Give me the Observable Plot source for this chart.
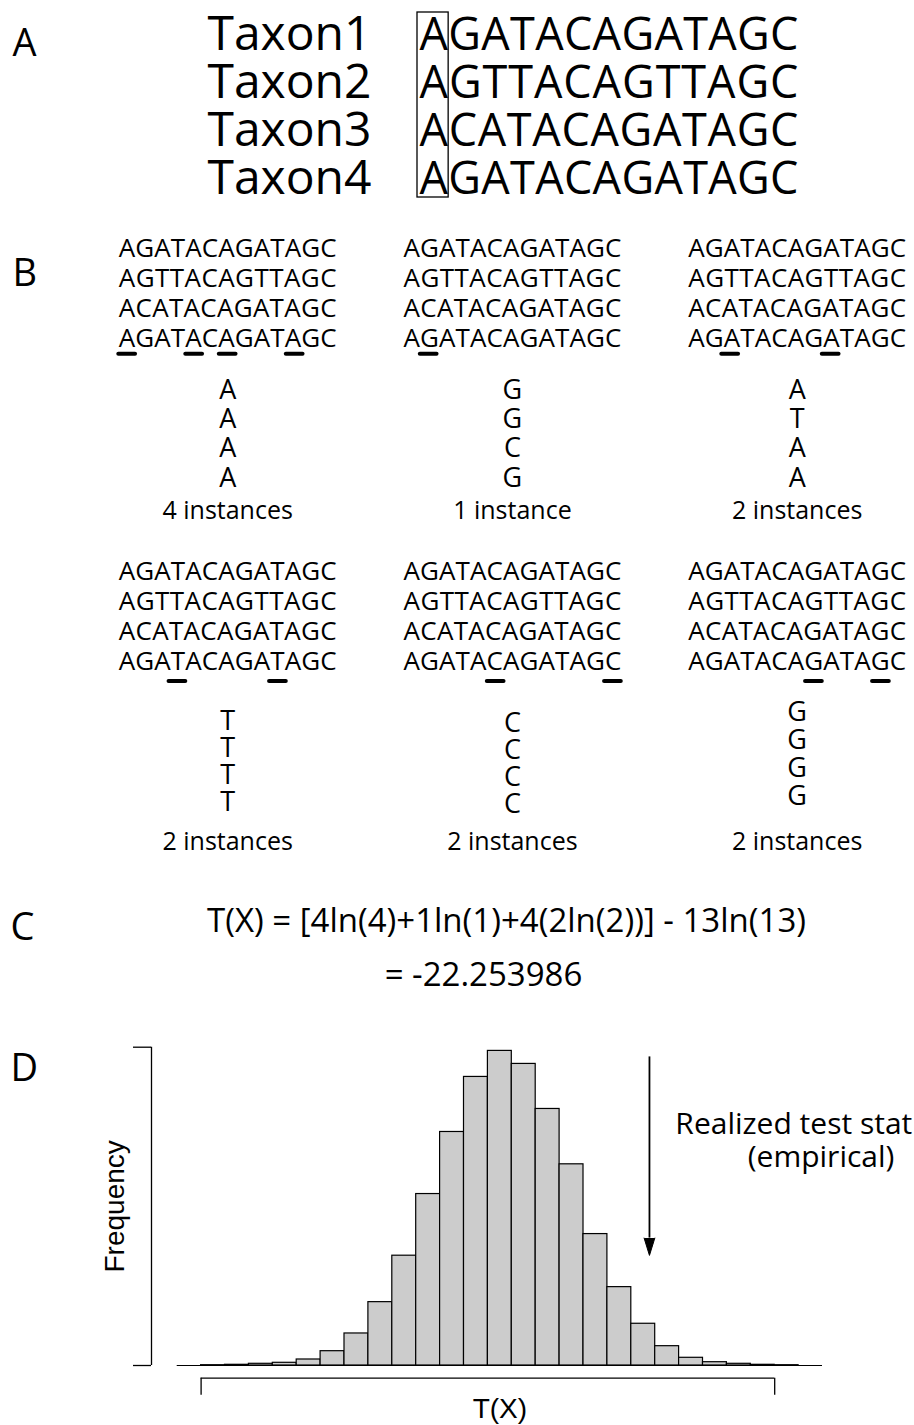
<!DOCTYPE html>
<html>
<head>
<meta charset="utf-8">
<script src="https://cdn.jsdelivr.net/npm/d3@7"></script>
<script src="https://cdn.jsdelivr.net/npm/@observablehq/plot@0.6"></script>
<style>
html, body { margin: 0; padding: 0; background: #fff; }
#fig { position: relative; width: 914px; height: 1425px; overflow: hidden; background: #fff; }
</style>
</head>
<body>
<div id="fig"></div>
<script>
// ---------------- data ----------------
const panelLabels = ["A", "B", "C", "D"];
const taxa = ["Taxon1", "Taxon2", "Taxon3", "Taxon4"];
const sequences = ["AGATACAGATAGC", "AGTTACAGTTAGC", "ACATACAGATAGC", "AGATACAGATAGC"];
const highlightedSite = 0;
const sitePatterns = ["AAAA", "GGCG", "ATAA", "TTTT", "CCCC", "GGGG"];
const patternSites = [[0, 4, 6, 10], [1], [2, 8], [3, 9], [5, 12], [7, 11]];
const instanceLabels = ["4 instances", "1 instance", "2 instances", "2 instances", "2 instances", "2 instances"];
const formulaLines = ["T(X) = [4ln(4)+1ln(1)+4(2ln(2))] - 13ln(13)", "= -22.253986"];
const binStart = [0, 1, 2, 3, 4, 5, 6, 7, 8, 9, 10, 11, 12, 13, 14, 15, 16, 17, 18, 19, 20, 21, 22, 23, 24, 25, 26];
const frequency = [0, 0.3, 0.7, 1.7, 2.7, 6, 14.3, 32, 63.3, 109.7, 171.3, 233.3, 288.3, 314.3, 301.3, 256.3, 201, 131.3, 78.3, 41.7, 19.3, 7.7, 3.3, 1.7, 0.7, 0.3, 0];
const xTicks = [1, 25];
const yTicks = [0, 318];
const realizedStat = 19.76;
const arrowLabel = ["Realized test statistic", "(empirical)"];
const xLabel = "T(X)";
const yLabel = "Frequency";

// ---------------- helpers ----------------
const FONT_MAIN = "'Open Sans', 'Noto Sans', sans-serif";
const FONT_R = "'Liberation Sans', Arial, sans-serif";
const fig = document.getElementById("fig");
function place(svg, top) {
  svg.style.position = "absolute";
  svg.style.left = "0px";
  svg.style.top = top + "px";
  svg.style.background = "transparent";
  svg.style.maxWidth = "none";
  fig.appendChild(svg);
}
// stretch each alignment line so that its 13 sites fill 13 equal columns
function fitLines(svg, strings, length) {
  svg.querySelectorAll("text, tspan").forEach(el => {
    if (el.children.length === 0 && strings.includes(el.textContent)) {
      el.setAttribute("textLength", length);
      el.setAttribute("lengthAdjust", "spacing");
    }
  });
}

// ---------------- panel A ----------------
const A_COL = 29.15, A_ROW = 48;
const plotA = Plot.plot({
  width: 914, height: 210,
  marginLeft: 419, marginRight: 116, marginTop: 49, marginBottom: 17,
  x: {domain: [0, 13], axis: null},
  y: {domain: [0, 3], reverse: true, axis: null},
  marks: [
    Plot.text([sequences.join("\n")], {x: () => 0, y: () => sequences.length - 1, text: d => d, fontSize: 45, lineHeight: A_ROW / 45, fontFamily: FONT_MAIN, textAnchor: "start", lineAnchor: "bottom", fill: "black"}),
    Plot.text([taxa.join("\n")], {x: () => 0, y: () => taxa.length - 1, text: d => d, dx: -48, fontSize: 48, lineHeight: A_ROW / 48, fontFamily: FONT_MAIN, textAnchor: "end", lineAnchor: "bottom", fill: "black"}),
    Plot.rect([highlightedSite], {x1: d => d, x2: d => d + 1, y1: () => 0, y2: () => 3, insetTop: -37, insetBottom: -4, insetLeft: -2, fill: "none", stroke: "black", strokeWidth: 1.3}),
    Plot.text([panelLabels[0]], {frameAnchor: "top-left", text: d => d, dx: 12 - 419, dy: 55 - 49, fontSize: 38, fontFamily: FONT_MAIN, textAnchor: "start", lineAnchor: "bottom", fill: "black"})
  ]
});
fitLines(plotA, sequences, 13 * A_COL);
place(plotA, 0);

// ---------------- panel B ----------------
const COLS = 17, ROWGAP = 10.753, B_COL = 16.75, B_UNIT = 30;
const blockLayout = [
  {bx: 0, by: 0, patStart: 4.72, patStep: 0.975, label: 8.72, under: 3.22},
  {bx: 1, by: 0, patStart: 4.72, patStep: 0.975, label: 8.72, under: 3.22},
  {bx: 2, by: 0, patStart: 4.72, patStep: 0.975, label: 8.72, under: 3.22},
  {bx: 0, by: 1, patStart: 5.02, patStep: 0.90, label: 9.02, under: 3.37},
  {bx: 1, by: 1, patStart: 5.06, patStep: 0.91, label: 9.02, under: 3.37},
  {bx: 2, by: 1, patStart: 4.69, patStep: 0.943, label: 9.02, under: 3.37}
];
const blockUnder = patternSites.flatMap((sites, b) => sites.map(i => {
  const L = blockLayout[b];
  return {x1: L.bx * COLS + i, x2: L.bx * COLS + i + 1, y: L.by * ROWGAP + L.under};
}));
const blockLbl = instanceLabels.map((t, b) => {
  const L = blockLayout[b];
  return {x: L.bx * COLS + 6.5, y: L.by * ROWGAP + L.label, t};
});
const patternMarks = sitePatterns.map((p, b) => {
  const L = blockLayout[b];
  return Plot.text([Array.from(p).join("\n")], {
    x: () => L.bx * COLS + 6.5,
    y: () => L.by * ROWGAP + L.patStart + (p.length - 1) * L.patStep,
    text: d => d, fontSize: 27, lineHeight: L.patStep * B_UNIT / 27,
    fontFamily: FONT_MAIN, textAnchor: "middle", lineAnchor: "bottom", fill: "black"
  });
});
const plotB = Plot.plot({
  width: 914, height: 670,
  marginLeft: 118.3, marginRight: 8.45, marginTop: 46.7, marginBottom: 23.3,
  x: {domain: [0, 47], axis: null},
  y: {domain: [0, 20], reverse: true, axis: null},
  marks: [
    Plot.text(blockLayout, {x: L => L.bx * COLS, y: L => L.by * ROWGAP + sequences.length - 1, text: () => sequences.join("\n"), fontSize: 26, lineHeight: B_UNIT / 26, fontFamily: FONT_MAIN, textAnchor: "start", lineAnchor: "bottom", fill: "black"}),
    Plot.ruleY(blockUnder, {x1: "x1", x2: "x2", y: "y", stroke: "black", strokeWidth: 4, strokeLinecap: "round"}),
    ...patternMarks,
    Plot.text(blockLbl, {x: "x", y: "y", text: "t", fontSize: 25, fontFamily: FONT_MAIN, textAnchor: "middle", lineAnchor: "bottom", fill: "black"}),
    Plot.text([panelLabels[1]], {frameAnchor: "top-left", text: d => d, dx: 12 - 118.3, dy: 285 - 210 - 46.7, fontSize: 38, fontFamily: FONT_MAIN, textAnchor: "start", lineAnchor: "bottom", fill: "black"})
  ]
});
fitLines(plotB, sequences, 13 * B_COL);
place(plotB, 210);

// ---------------- panel C ----------------
const plotC = Plot.plot({
  width: 914, height: 130,
  marginLeft: 0, marginRight: 0, marginTop: 0, marginBottom: 0,
  marks: [
    Plot.text([formulaLines[0]], {frameAnchor: "top-left", text: d => d, dx: 506, dy: 51, fontSize: 33, fontFamily: FONT_MAIN, textAnchor: "middle", lineAnchor: "bottom", fill: "black"}),
    Plot.text([formulaLines[1]], {frameAnchor: "top-left", text: d => d, dx: 483, dy: 105, fontSize: 33, fontFamily: FONT_MAIN, textAnchor: "middle", lineAnchor: "bottom", fill: "black"}),
    Plot.text([panelLabels[2]], {frameAnchor: "top-left", text: d => d, dx: 10, dy: 59, fontSize: 38, fontFamily: FONT_MAIN, textAnchor: "start", lineAnchor: "bottom", fill: "black"})
  ]
});
place(plotC, 880);

// ---------------- panel D ----------------
const hist = binStart.map((x0, i) => ({x0, x1: x0 + 1, freq: frequency[i]}));
const headHalfWidth = 0.224, headLength = 17.3, arrowTop = 308.3, arrowTip = 110;
const arrowHead = [
  {x: realizedStat - headHalfWidth, y: arrowTip + headLength},
  {x: realizedStat, y: arrowTip},
  {x: realizedStat + headHalfWidth, y: arrowTip + headLength}
];
const plotD = Plot.plot({
  width: 914, height: 415,
  marginLeft: 176.7, marginRight: 92, marginTop: 36.7, marginBottom: 60,
  x: {domain: [0, 27], axis: null},
  y: {domain: [0, 318], axis: null},
  marks: [
    Plot.rectY(hist, {x1: "x0", x2: "x1", y: "freq", fill: "#cccccc", stroke: "black", strokeWidth: 1.2}),
    Plot.ruleY([0], {x1: () => binStart[0], x2: () => binStart[binStart.length - 1] + 1, stroke: "black", strokeWidth: 1.2}),
    // y axis bracket (R style, offset from the plot region)
    Plot.ruleX([0], {y1: () => yTicks[0], y2: () => yTicks[1], dx: -25.7, stroke: "black", strokeWidth: 1.3}),
    Plot.ruleY(yTicks, {x1: () => 0, x2: () => 0, insetLeft: -18, dx: -25.7, stroke: "black", strokeWidth: 1.3}),
    // x axis bracket
    Plot.ruleY([0], {x1: () => xTicks[0], x2: () => xTicks[1], dy: 12.7, stroke: "black", strokeWidth: 1.3}),
    Plot.ruleX(xTicks, {y1: () => 0, y2: () => 0, dy: 12.7, insetBottom: -17, stroke: "black", strokeWidth: 1.3}),
    // arrow for the realized statistic
    Plot.ruleX([realizedStat], {y1: () => arrowTop, y2: () => arrowTip + headLength, stroke: "black", strokeWidth: 1.8}),
    Plot.line(arrowHead, {x: "x", y: "y", fill: "black", stroke: "black", strokeWidth: 1}),
    Plot.text([arrowLabel.join("\n")], {x: () => 26.94, y: () => 198.3, text: d => d, fontSize: 30, lineHeight: 33.4 / 30, fontFamily: FONT_MAIN, textAnchor: "middle", lineAnchor: "bottom", fill: "black"}),
    // axis titles
    Plot.text([yLabel], {frameAnchor: "left", text: d => d, dx: -53.4, rotate: -90, fontSize: 28, fontFamily: FONT_R, textAnchor: "middle", lineAnchor: "bottom", fill: "black"}),
    Plot.text([xLabel], {frameAnchor: "bottom", text: d => d, dy: 52, fontSize: 28, fontFamily: FONT_R, textAnchor: "middle", lineAnchor: "bottom", fill: "black"}),
    Plot.text([panelLabels[3]], {frameAnchor: "top-left", text: d => d, dx: 10 - 176.7, dy: 70 - 36.7, fontSize: 38, fontFamily: FONT_MAIN, textAnchor: "start", lineAnchor: "bottom", fill: "black"})
  ]
});
place(plotD, 1010);
</script>
</body>
</html>
